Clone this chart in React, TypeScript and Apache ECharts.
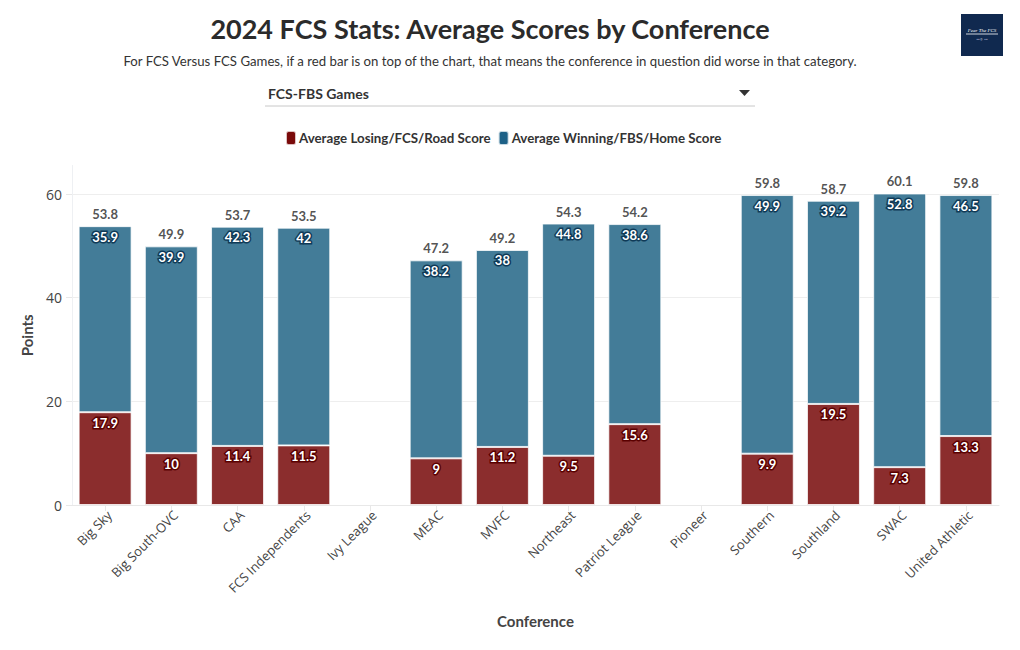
import React, { useEffect, useRef } from "react";
import * as echarts from "echarts";

const categories = [
  "Big Sky", "Big South-OVC", "CAA", "FCS Independents", "Ivy League", "MEAC", "MVFC",
  "Northeast", "Patriot League", "Pioneer", "Southern", "Southland", "SWAC", "United Athletic",
];
const losingScores: (number | null)[] = [17.9, 10, 11.4, 11.5, null, 9, 11.2, 9.5, 15.6, null, 9.9, 19.5, 7.3, 13.3];
const winningScores: (number | null)[] = [35.9, 39.9, 42.3, 42, null, 38.2, 38, 44.8, 38.6, null, 49.9, 39.2, 52.8, 46.5];
const yTicks = [0, 20, 40, 60];

const TITLE = "2024 FCS Stats: Average Scores by Conference";
const SUBTITLE = "For FCS Versus FCS Games, if a red bar is on top of the chart, that means the conference in question did worse in that category.";
const LOSING_NAME = "Average Losing/FCS/Road Score";
const WINNING_NAME = "Average Winning/FBS/Home Score";

const FONT = "Lato, 'Noto Sans', sans-serif";
const TICK_FONT = "'Open Sans', 'Noto Sans', sans-serif";

export default function App() {
  const ref = useRef<HTMLDivElement>(null);
  useEffect(() => {
    if (!ref.current) return;
    const chart = echarts.init(ref.current, undefined, { renderer: "svg" });
    const totals = losingScores.map((l, i) => {
      const w = winningScores[i];
      if (l == null || w == null) return null;
      return Math.round((l + w) * 10) / 10;
    });
    chart.setOption({
      animation: false,
      backgroundColor: "#fff",
      textStyle: { fontFamily: FONT },
      title: [
        {
          text: TITLE,
          left: 485,
          top: 10,
          textAlign: "center",
          textStyle: { fontSize: 27, fontWeight: "bold", color: "#2b2b2b", fontFamily: FONT },
        },
        {
          text: SUBTITLE,
          left: 485,
          top: 49,
          textAlign: "center",
          textStyle: { fontSize: 13.2, fontWeight: "normal", color: "#333", fontFamily: FONT },
        },
      ],
      legend: {
        top: 125,
        left: 280,
        icon: "roundRect",
        itemWidth: 10,
        itemHeight: 14,
        itemGap: 7,
        textStyle: { fontSize: 13.3, fontWeight: "bold", color: "#333", fontFamily: FONT, padding: [0, 0, 0, -2] },
        data: [
          { name: LOSING_NAME, itemStyle: { color: "#7a0a0a" } },
          { name: WINNING_NAME, itemStyle: { color: "#1d6187" } },
        ],
        selectedMode: false,
      },
      grid: { left: 72, right: 21, top: 165.5, bottom: 145, containLabel: false },
      xAxis: {
        type: "category",
        data: categories,
        name: "Conference",
        nameLocation: "middle",
        nameGap: 108,
        nameTextStyle: { fontSize: 15, fontWeight: "bold", color: "#444", fontFamily: FONT },
        axisLine: { show: true, lineStyle: { color: "#e8e8e8" } },
        axisTick: { show: true, alignWithLabel: true, length: 6, lineStyle: { color: "#e8e8e8" } },
        axisLabel: { rotate: 45, fontSize: 13, color: "#444", fontFamily: TICK_FONT, margin: 12, interval: 0, padding: [0, -6, 0, 0] },
      },
      yAxis: {
        type: "value",
        min: 0,
        max: 65.5,
        interval: 20,
        name: "Points",
        nameLocation: "middle",
        nameGap: 38,
        nameTextStyle: { fontSize: 15, fontWeight: "bold", color: "#444", fontFamily: FONT },
        axisLine: { show: true, lineStyle: { color: "#eef0f3" } },
        axisTick: { show: true, length: 6, lineStyle: { color: "#e8e8e8" } },
        axisLabel: {
          fontSize: 14,
          color: "#444",
          fontFamily: TICK_FONT,
          margin: 10,
          showMaxLabel: false,
          formatter: (v: number) => (yTicks.includes(v) ? String(v) : ""),
        },
        splitLine: {
          show: true,
          lineStyle: { color: ["#eeeeee", "#eeeeee", "#eeeeee", "#eeeeee", "rgba(0,0,0,0)"] },
        },
      },
      series: [
        {
          name: LOSING_NAME,
          type: "bar",
          stack: "s",
          data: losingScores,
          barCategoryGap: "20%",
          itemStyle: { color: "#8b2d2d", borderColor: "rgba(255,255,255,0.75)", borderWidth: 1 },
          label: {
            show: true,
            position: "insideTop",
            distance: 4,
            color: "#fff",
            fontSize: 13,
            fontWeight: "bold",
            fontFamily: FONT,
            textBorderColor: "#5a0000",
            textBorderWidth: 3,
          },
        },
        {
          name: WINNING_NAME,
          type: "bar",
          stack: "s",
          data: winningScores,
          barCategoryGap: "20%",
          itemStyle: { color: "#437c98", borderColor: "rgba(255,255,255,0.75)", borderWidth: 1 },
          label: {
            show: true,
            position: "insideTop",
            distance: 4,
            color: "#fff",
            fontSize: 13,
            fontWeight: "bold",
            fontFamily: FONT,
            textBorderColor: "#0f3a57",
            textBorderWidth: 3,
          },
        },
        {
          name: "Total",
          type: "scatter",
          data: totals,
          symbolSize: 1,
          itemStyle: { color: "rgba(0,0,0,0)" },
          silent: true,
          label: {
            show: true,
            position: "top",
            distance: 5,
            color: "#262626",
            fontSize: 13,
            fontWeight: "bold",
            fontFamily: FONT,
          },
        },
      ],
      graphic: [
        {
          type: "text",
          left: 268,
          top: 86,
          style: { text: "FCS-FBS Games", fontSize: 14, fontWeight: "bold", fill: "#333", fontFamily: FONT },
        },
        {
          type: "line",
          shape: { x1: 265, y1: 106, x2: 755, y2: 106 },
          style: { stroke: "#c8c8c8", lineWidth: 1 },
        },
        {
          type: "polygon",
          shape: { points: [[739, 90], [750, 90], [744.5, 96]] },
          style: { fill: "#333" },
        },
        {
          type: "group",
          children: [
            { type: "rect", shape: { x: 961, y: 14, width: 42, height: 42 }, style: { fill: "#10294f" } },
            {
              type: "text",
              x: 982,
              y: 30,
              style: { text: "Fear The FCS", fontSize: 5, fill: "#fff", align: "center", verticalAlign: "middle", fontFamily: "serif", fontStyle: "italic" },
            },
            { type: "line", shape: { x1: 966, y1: 34, x2: 998, y2: 34 }, style: { stroke: "#fff", lineWidth: 0.8 } },
            {
              type: "text",
              x: 982,
              y: 39,
              style: { text: "▪▪▪ ◎ ▪▪▪", fontSize: 3, fill: "#cfd8e6", align: "center", verticalAlign: "middle" },
            },
          ],
        },
      ],
    });
    return () => chart.dispose();
  }, []);
  return <div ref={ref} style={{ position: "fixed", left: 0, top: 0, width: 1020, height: 650 }} />;
}
